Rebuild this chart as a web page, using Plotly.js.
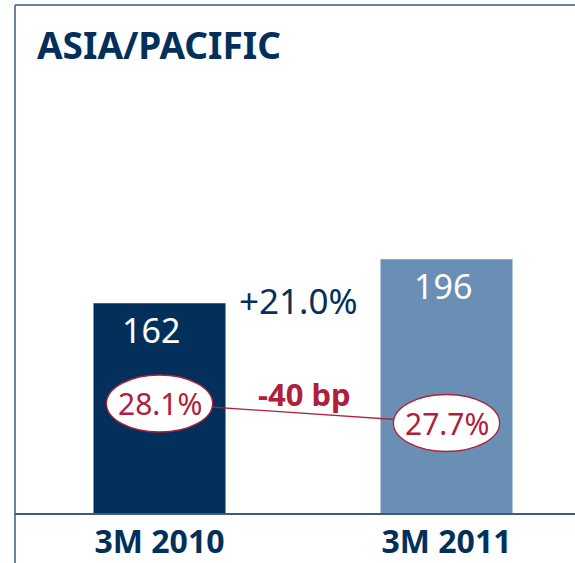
<!DOCTYPE html>
<html>
<head>
<meta charset="utf-8">
<script src="https://cdn.plot.ly/plotly-3.0.1.min.js"></script>
<style>html,body{margin:0;padding:0;background:#fff;}#chart{width:575px;height:563px;}</style>
</head>
<body>
<div id="chart"></div>
<script>
// ---- data ----
const categories = ["3M 2010", "3M 2011"];
const revenue = [162, 196];
const margin = [28.1, 27.7];
const chartTitle = "ASIA/PACIFIC";
const growthLabel = "+21.0%";
const marginChangeLabel = "-40 bp";

// ---- styles ----
const NAVY = "#03305a";
const LIGHT = "#6a8fb5";
const RED = "#b0203a";
const LINE = "#3d5b80";
const FONT = "Noto Sans, Open Sans, sans-serif";
const barColors = [NAVY, LIGHT];

const RX = 0.185, RY = 0.585;

const traces = [
  {
    type: "bar",
    x: categories,
    y: revenue,
    width: 0.46,
    marker: { color: barColors },
    hoverinfo: "skip"
  },
  {
    type: "scatter",
    mode: "lines",
    x: categories,
    y: margin,
    yaxis: "y2",
    line: { color: RED, width: 1.3 },
    hoverinfo: "skip"
  }
];

const shapes = [];
margin.forEach((m, i) => {
  shapes.push({
    type: "circle", xref: "x", yref: "y2", layer: "above",
    x0: i - RX, x1: i + RX, y0: m - RY, y1: m + RY,
    fillcolor: "#ffffff", line: { color: RED, width: 1.3 }
  });
});
// frame lines
shapes.push({ type: "line", xref: "paper", yref: "paper", x0: 0, x1: 0, y0: -0.1, y1: 1, line: { color: LINE, width: 1.5 } });
shapes.push({ type: "line", xref: "paper", yref: "paper", x0: 0, x1: 1, y0: 1, y1: 1, line: { color: LINE, width: 1.5 } });

const annotations = [];
revenue.forEach((v, i) => {
  annotations.push({
    x: categories[i], y: v, xref: "x", yref: "y", yanchor: "top", yshift: -2, xshift: i === 0 ? -9 : -4,
    text: String(v), showarrow: false,
    font: { family: FONT, size: 34, color: "#ffffff" }
  });
});
margin.forEach((m, i) => {
  annotations.push({
    x: categories[i], y: m, xref: "x", yref: "y2", yanchor: "middle",
    text: m.toFixed(1) + "%", showarrow: false,
    font: { family: FONT, size: 30, color: RED }
  });
});
annotations.push({
  xref: "paper", yref: "paper", x: (298 - 15) / 560, y: (513 - 300) / 508, xanchor: "center", yanchor: "middle",
  text: growthLabel, showarrow: false, font: { family: FONT, size: 35, color: NAVY }
});
annotations.push({
  xref: "paper", yref: "paper", x: (304 - 15) / 560, y: (513 - 394) / 508, xanchor: "center", yanchor: "middle",
  text: "<b>" + marginChangeLabel + "</b>", showarrow: false, font: { family: FONT, size: 31, color: RED }
});
annotations.push({
  xref: "paper", yref: "paper", x: (35 - 15) / 560, y: (513 - 45) / 508, xanchor: "left", yanchor: "middle",
  text: "<b>" + chartTitle + "</b>", showarrow: false, font: { family: FONT, size: 37, color: NAVY }
});

const layout = {
  width: 575, height: 563,
  margin: { l: 15, r: 0, t: 5, b: 50 },
  paper_bgcolor: "#ffffff", plot_bgcolor: "#ffffff",
  showlegend: false,
  xaxis: {
    type: "category",
    range: [-0.5035, 1.4477],
    showgrid: false, zeroline: false,
    showline: true, linecolor: LINE, linewidth: 1.5,
    ticks: "",
    tickfont: { family: FONT, size: 32, color: NAVY, weight: "bold" },
    fixedrange: true
  },
  yaxis: {
    range: [0, 392.3],
    visible: false, showgrid: false, zeroline: false, fixedrange: true
  },
  yaxis2: {
    overlaying: "y", side: "right",
    range: [25.854, 36.274],
    visible: false, showgrid: false, zeroline: false, fixedrange: true
  },
  shapes: shapes,
  annotations: annotations
};

Plotly.newPlot("chart", traces, layout, { displayModeBar: false, staticPlot: true });
</script>
</body>
</html>
